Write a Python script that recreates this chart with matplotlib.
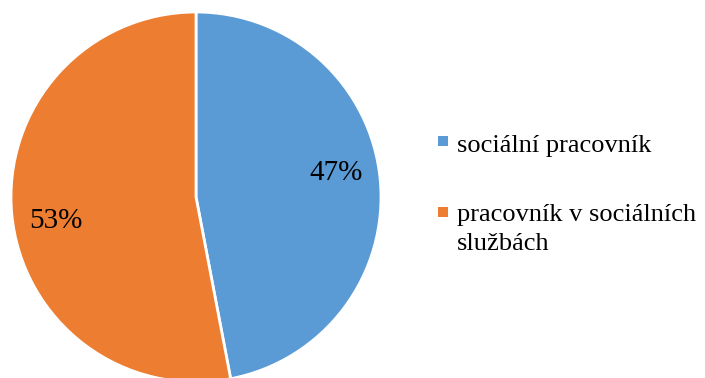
import numpy as np
import matplotlib.pyplot as plt
from matplotlib.patches import Rectangle

labels = ["sociální pracovník", "pracovník v sociálních\nslužbách"]
shares = [47, 53]
colors = ["#5B9BD5", "#ED7D31"]

plt.rcParams['font.family'] = ['Liberation Serif', 'DejaVu Serif']

W, H = 705, 378
fig = plt.figure(figsize=(W / 100, H / 100), dpi=100)

# pie area: centre ~ (196, 197) px, radius ~185 px
r_px = 185
ax = fig.add_axes([(196 - r_px) / W, (H - 197 - r_px) / H,
                   2 * r_px / W, 2 * r_px / H])
wedges, texts, autotexts = ax.pie(
    shares, colors=colors, startangle=90, counterclock=False,
    autopct='%.0f%%', pctdistance=0.77, radius=1,
    wedgeprops=dict(edgecolor='white', linewidth=2),
    textprops=dict(fontsize=21, color='black'))
# nudge the percentage labels a little counter-clockwise
rot = np.deg2rad(4.5)
for t in autotexts:
    x, y = t.get_position()
    t.set_position((x * np.cos(rot) - y * np.sin(rot),
                    x * np.sin(rot) + y * np.cos(rot)))
ax.set_xlim(-1, 1)
ax.set_ylim(-1, 1)
ax.set_aspect('equal')
ax.axis('off')

# legend on the right: small square + label (pixel positions from top,
# text anchored on the baseline of its last line)
marker_y = [141, 212]
text_base = [152, 250]
for lab, col, my, by in zip(labels, colors, marker_y, text_base):
    fig.patches.append(Rectangle((438 / W, 1 - (my + 5) / H), 10 / W, 10 / H,
                                 transform=fig.transFigure,
                                 facecolor=col, edgecolor='none'))
    fig.text(457 / W, 1 - by / H, lab, va='baseline', ha='left',
             fontsize=19, color='black', linespacing=1.4)

fig.savefig("out.png", dpi=100)
